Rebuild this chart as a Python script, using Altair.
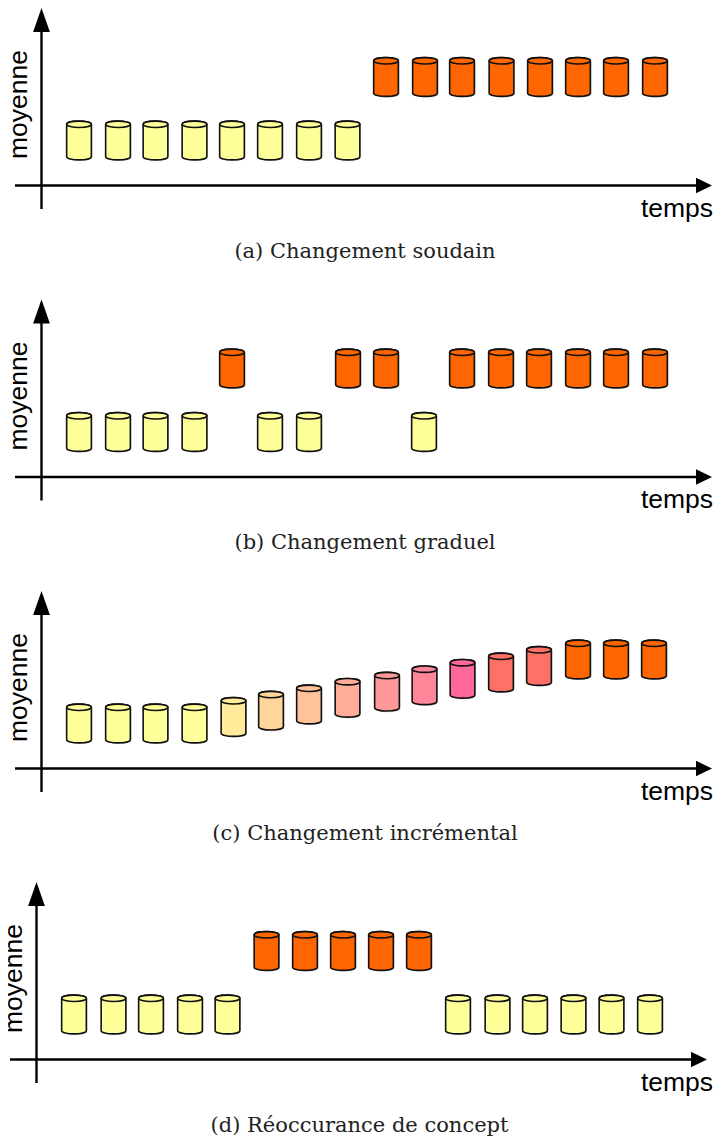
import altair as alt
import pandas as pd

YELLOW = "#FFFF99"
ORANGE = "#FF6600"

panels = ["a", "b", "c", "d"]
axis_x = [41.5, 41.5, 41.5, 36.5]
axis_y = [185.5, 477.0, 768.5, 1059.5]
ylab_x = [26.5, 26.5, 26.5, 21.5]
xlab_x = [677, 677, 677, 677]
caption_x = [365, 365, 365, 359.5]
caption_y = [257.5, 548.5, 840, 1131.5]
captions = ["(a) Changement soudain", "(b) Changement graduel",
            "(c) Changement incrémental", "(d) Réoccurance de concept"]

a_time = [79, 118, 155.5, 194.5, 232, 270, 309, 347.5, 386, 425, 462, 501.5, 540, 578, 616, 655]
a_mean = [45, 45, 45, 45, 45, 45, 45, 45, 108.5, 108.5, 108.5, 108.5, 108.5, 108.5, 108.5, 108.5]
a_color = [YELLOW] * 8 + [ORANGE] * 8

b_time = [79, 118, 155.5, 194.5, 232, 270, 309, 348, 386, 424, 462, 501, 539, 578, 616, 655]
b_mean = [45, 45, 45, 45, 108.5, 45, 45, 108.5, 108.5, 45, 108.5, 108.5, 108.5, 108.5, 108.5, 108.5]
b_color = [YELLOW, YELLOW, YELLOW, YELLOW, ORANGE, YELLOW, YELLOW, ORANGE, ORANGE, YELLOW,
           ORANGE, ORANGE, ORANGE, ORANGE, ORANGE, ORANGE]

c_time = [79, 118, 155.5, 194.5, 233.5, 271, 309, 347.5, 387, 424.5, 462.5, 501, 539, 578, 616, 654]
c_mean = [45, 45, 45, 45, 51.5, 57.8, 64, 70.7, 76.8, 83.2, 89.7, 96, 102.5, 109, 109, 109]
c_color = [YELLOW, YELLOW, YELLOW, YELLOW, "#FFEB99", "#FFD699", "#FFC299", "#FFAD99", "#FF9999",
           "#FF8599", "#FF6699", "#FF7066", "#FF7066", ORANGE, ORANGE, ORANGE]

d_time = [74, 113.5, 151, 190, 227.5, 266.5, 305, 343, 381, 419, 458, 497.5, 535, 573.5, 611.5, 650]
d_mean = [45, 45, 45, 45, 45, 108.5, 108.5, 108.5, 108.5, 108.5, 45, 45, 45, 45, 45, 45]
d_color = [YELLOW] * 5 + [ORANGE] * 5 + [YELLOW] * 6

series = [(a_time, a_mean, a_color), (b_time, b_mean, b_color),
          (c_time, c_mean, c_color), (d_time, d_mean, d_color)]

rows = []
for i, (ts, ms, cs) in enumerate(series):
    for t, m, c in zip(ts, ms, cs):
        rows.append({"panel": panels[i], "time": t, "y": axis_y[i] - m, "color": c})
cyl = pd.DataFrame(rows)

axes = pd.DataFrame({
    "panel": panels,
    "ax": axis_x,
    "ay": axis_y,
    "hx0": [x - 26.5 for x in axis_x],
    "hx1": [x + 659 for x in axis_x],
    "vy0": [y + 23.5 for y in axis_y],
    "vy1": [y - 155 for y in axis_y],
    "uptip": [y - 165.5 for y in axis_y],
    "righttip": [x + 662.5 for x in axis_x],
    "ylab_x": ylab_x,
    "ylab_y": [y - 81 for y in axis_y],
    "xlab_x": xlab_x,
    "xlab_y": [y + 31 for y in axis_y],
    "ylab": ["moyenne"] * 4,
    "xlab": ["temps"] * 4,
})
caps = pd.DataFrame({"x": caption_x, "y": caption_y, "text": captions})

X = alt.Scale(domain=[8, 713], nice=False, zero=False)
Y = alt.Scale(domain=[1138, 8], nice=False, zero=False)


def px(f):
    return alt.X(f, type="quantitative", scale=X, axis=None)


def py(f):
    return alt.Y(f, type="quantitative", scale=Y, axis=None)


HW = 24.7 / 38.7
RY = 0.165
BODY = (f"M{-HW},{-1 + RY} A{HW},{RY} 0 0 1 {HW},{-1 + RY} L{HW},{1 - RY} "
        f"A{HW},{RY} 0 0 1 {-HW},{1 - RY} Z")
TOP = (f"M{-HW},{-1 + RY} A{HW},{RY} 0 0 1 {HW},{-1 + RY} "
       f"A{HW},{RY} 0 0 1 {-HW},{-1 + RY} Z")
SIZE = 38.7 ** 2
CYL_ENC = dict(x=px("time"), y=py("y"))

shadow = alt.Chart(cyl).mark_point(
    shape=BODY, size=SIZE, filled=True, fill="#888888", opacity=0.3, xOffset=1.2, yOffset=1.2
).encode(**CYL_ENC)
body = alt.Chart(cyl).mark_point(
    shape=BODY, size=SIZE, filled=True, stroke="#111111", strokeWidth=1.6, opacity=1
).encode(fill=alt.Fill("color:N", scale=None), **CYL_ENC)
top = alt.Chart(cyl).mark_point(
    shape=TOP, size=SIZE, filled=True, stroke="#111111", strokeWidth=1.6, opacity=1
).encode(fill=alt.Fill("color:N", scale=None), **CYL_ENC)

hline = alt.Chart(axes).mark_rule(color="black", strokeWidth=2.4).encode(
    x=px("hx0"), x2="hx1:Q", y=py("ay"))
vline = alt.Chart(axes).mark_rule(color="black", strokeWidth=2.4).encode(
    x=px("ax"), y=py("vy0"), y2="vy1:Q")
up = alt.Chart(axes).mark_point(
    shape="M-0.7,1 L0,-1 L0.7,1 Z", size=24 ** 2, filled=True, color="black", opacity=1
).encode(x=px("ax"), y=py("uptip"))
right = alt.Chart(axes).mark_point(
    shape="M-1,-0.97 L1,0 L-1,0.97 Z", size=16 ** 2, filled=True, color="black", opacity=1
).encode(x=px("righttip"), y=py("ay"))

ylab = alt.Chart(axes).mark_text(
    font="Liberation Sans", fontSize=26.5, angle=270, align="center", baseline="alphabetic", color="black"
).encode(x=px("ylab_x"), y=py("ylab_y"), text="ylab:N")
xlab = alt.Chart(axes).mark_text(
    font="Liberation Sans", fontSize=26.5, align="center", baseline="alphabetic", color="black"
).encode(x=px("xlab_x"), y=py("xlab_y"), text="xlab:N")
cap = alt.Chart(caps).mark_text(
    font="DejaVu Serif", fontSize=21, align="center", baseline="alphabetic", color="#222222"
).encode(x=px("x"), y=py("y"), text="text:N")

chart = alt.layer(
    shadow, body, top, hline, vline, up, right, ylab, xlab, cap
).properties(
    width=705, height=1130, padding=0, autosize=alt.AutoSizeParams(type="none"), background="white"
).configure_view(stroke=None)

chart.save("out.html", embed_options={"renderer": "svg", "actions": False})
